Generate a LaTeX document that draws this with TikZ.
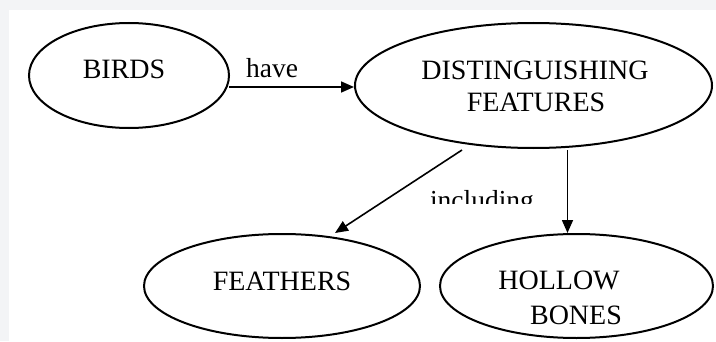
\documentclass[tikz,border=0pt]{standalone}
\usepackage{fontspec}
\setmainfont{Liberation Serif}
\usetikzlibrary{shapes.geometric,arrows.meta}
\definecolor{pagegray}{RGB}{243,244,246}
\begin{document}
\begin{tikzpicture}[x=1pt,y=1pt,
  bubble/.style={draw,line width=2pt,ellipse,inner sep=0pt},
  word/.style={anchor=base,inner sep=0pt,font=\fontsize{28}{33}\selectfont},
  link/.style={line width=1.6pt,-{Triangle[length=13pt,width=11pt]}}]
  % page
  \fill[pagegray] (0,0) rectangle (716,341);
  \fill[white] (9,0) rectangle (716,331);
  \useasboundingbox (0,0) rectangle (716,341);
  % the four ellipses
  \node[bubble,minimum width=200pt,minimum height=105pt] (birds) at (129,265.5) {};
  \node[bubble,minimum width=357pt,minimum height=125pt] (feat) at (533.5,255.5) {};
  \node[bubble,minimum width=276pt,minimum height=104pt] (feathers) at (282,55) {};
  \node[bubble,minimum width=273pt,minimum height=104pt] (hollow) at (576.5,55) {};
  % their texts
  \node[word] (birdsT) at (124,262.7) {BIRDS};
  \node[word] (featA) at (535,261.7) {DISTINGUISHING};
  \node[word] (featB) at (536,229.2) {FEATURES};
  \node[word] (feathersT) at (282,50.7) {FEATHERS};
  \node[word] (hollowA) at (559,51.5) {HOLLOW};
  \node[word] (hollowB) at (576,16.5) {BONES};
  % connectors
  \coordinate (haveS) at (229,254);
  \coordinate (inclS) at (462,191);
  \coordinate (inclE) at (335,108);
  \coordinate (downS) at (567.5,191);
  \coordinate (downE) at (567.5,108);
  \draw[link] (haveS) -- (haveS -| feat.west);
  \draw[link] (inclS) -- (inclE);
  \draw[link] (downS) -- (downE);
  \node[word,font=\fontsize{27.5}{33}\selectfont] (have) at (272,263) {have};
  \begin{scope}
    \clip (420,138) rectangle (545,165);
    \node[word,font=\fontsize{27.5}{33}\selectfont] (incl) at (482,132) {including};
  \end{scope}
\end{tikzpicture}
\end{document}
